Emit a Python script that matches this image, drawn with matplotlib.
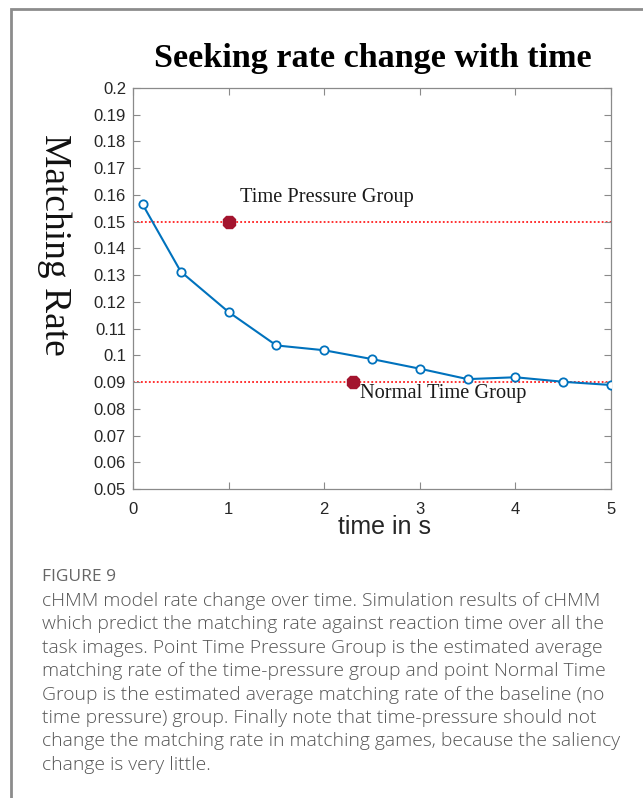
import matplotlib
matplotlib.use("Agg")
import matplotlib.pyplot as plt
from matplotlib.patches import Rectangle

# ---- data ----
time_s = [0.1, 0.5, 1.0, 1.5, 2.0, 2.5, 3.0, 3.5, 4.0, 4.5, 5.0]
matching_rate = [0.1565, 0.1313, 0.1162, 0.1037, 0.1019, 0.0986, 0.0950, 0.0911, 0.0918, 0.0901, 0.0889]
group_names = ["Time Pressure Group", "Normal Time Group"]
group_x = [1.0, 2.3]
group_rate = [0.150, 0.090]
label_pos_x = [1.12, 2.37]
label_pos_y = [0.1589, 0.0858]
x_ticks = [0, 1, 2, 3, 4, 5]
y_ticks = [0.05, 0.06, 0.07, 0.08, 0.09, 0.10, 0.11, 0.12, 0.13, 0.14, 0.15, 0.16, 0.17, 0.18, 0.19, 0.20]

title = "Seeking rate change with time"
xlabel = "time in s"
ylabel = "Matching Rate"
fig_label = "FIGURE 9"
caption_lines = [
    "cHMM model rate change over time. Simulation results of cHMM",
    "which predict the matching rate against reaction time over all the",
    "task images. Point Time Pressure Group is the estimated average",
    "matching rate of the time-pressure group and point Normal Time",
    "Group is the estimated average matching rate of the baseline (no",
    "time pressure) group. Finally note that time-pressure should not",
    "change the matching rate in matching games, because the saliency",
    "change is very little.",
]

W, H = 643, 798
fig = plt.figure(figsize=(W / 100, H / 100), dpi=100)
fig.patch.set_facecolor("white")

# outer frame (extends off right and bottom edges)
fig.patches.append(Rectangle((10.5 / W, -0.1), 1.2, 1 - 9.5 / H + 0.1,
                             transform=fig.transFigure, fill=False,
                             edgecolor="#8c8c8c", linewidth=2.0, zorder=0))

ax = fig.add_axes([133 / W, 1 - 489 / H, (611 - 133) / W, (489 - 88) / H])
ax.set_xlim(0, 5)
ax.set_ylim(0.05, 0.2)

# reference lines
for r in group_rate:
    ax.axhline(r, color="#ff2020", linestyle=(0, (1, 1.2)), linewidth=1.3, zorder=1)

ax.plot(time_s, matching_rate, color="#0072BD", linewidth=1.5, marker="o",
        markersize=6, markerfacecolor="white", markeredgecolor="#0072BD",
        markeredgewidth=1.3, zorder=3)

ax.plot(group_x, group_rate, linestyle="none", marker="8", markersize=10,
        color="#A3142E", zorder=4)

for name, lx, ly in zip(group_names, label_pos_x, label_pos_y):
    ax.text(lx, ly, name, fontsize=14.7, family="Liberation Serif",
            color="#1a1a1a", ha="left", va="center")

ax.set_xticks(x_ticks)
ax.set_yticks(y_ticks)
ax.set_yticklabels(["%g" % round(v, 2) for v in y_ticks])
ax.tick_params(axis="both", direction="in", length=5, width=0.8, color="#8a8a8a",
               labelsize=12, labelcolor="#262626", top=True, right=True)
ax.tick_params(axis="x", pad=9)
ax.tick_params(axis="y", pad=5)
for lab in ax.get_xticklabels() + ax.get_yticklabels():
    lab.set_family("Liberation Sans")
for s in ax.spines.values():
    s.set_color("#8a8a8a")
    s.set_linewidth(0.9)

fig.text(373 / W, 1 - 58 / H, title, fontsize=24.6, fontweight="bold",
         family="Liberation Serif", ha="center", va="center", color="black")
fig.text(54 / W, 1 - 245 / H, ylabel, fontsize=27, family="Liberation Serif",
         rotation=270, ha="center", va="center", color="#111111")
fig.text(385 / W, 1 - 527 / H, xlabel, fontsize=18, family="Liberation Sans",
         ha="center", va="center", color="#262626")

fig.text(42 / W, 1 - 577 / H, fig_label, fontsize=12.5, family="Open Sans",
         color="#666666", ha="left", va="center")
for i, line in enumerate(caption_lines):
    fig.text(42 / W, 1 - (601 + 23.4 * i) / H, line, fontsize=13.9, family="Open Sans",
             fontweight="light", color="#555555", ha="left", va="center")

fig.savefig("out.png", dpi=100)
